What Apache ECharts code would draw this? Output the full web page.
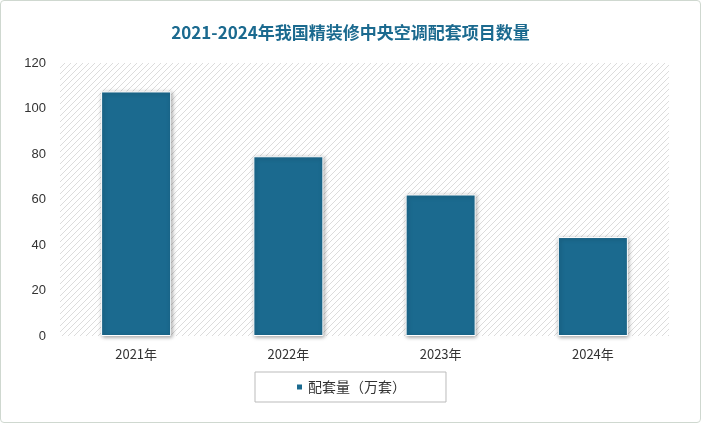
<!DOCTYPE html>
<html><head><meta charset="utf-8">
<script src="https://cdn.jsdelivr.net/npm/echarts@6/dist/echarts.min.js"></script>
<style>html,body{margin:0;padding:0;background:#fff}#c{width:701px;height:423px;box-sizing:border-box;border:1px solid #cfd8d0;border-radius:4px}</style>
</head><body><div id="c"></div>
<script>
const categories=['2021年','2022年','2023年','2024年'];
const values=[107.5,79,62.2,43.5];
const yTicks=[0,20,40,60,80,100,120];
const seriesName='配套量（万套）';
const cv=document.createElement('canvas');cv.width=6;cv.height=6;
const g=cv.getContext('2d');g.fillStyle='#fff';g.fillRect(0,0,6,6);g.strokeStyle='#dcdcdc';g.lineWidth=1;
g.beginPath();g.moveTo(0,6);g.lineTo(6,0);g.moveTo(-1,1);g.lineTo(1,-1);g.moveTo(5,7);g.lineTo(7,5);g.stroke();
const chart=echarts.init(document.getElementById('c'));
chart.setOption({
 animation:false,
 title:{text:'2021-2024年我国精装修中央空调配套项目数量',left:'center',top:18,textStyle:{color:'#1b6a8f',fontSize:17,fontWeight:'bold',fontFamily:'Noto Sans CJK SC'}},
 grid:{left:59,right:31,top:62,bottom:86,show:true,borderWidth:0,backgroundColor:{image:cv,repeat:'repeat'}},
 legend:{bottom:20,left:'center',data:[seriesName],itemWidth:7,itemHeight:7,icon:'rect',borderColor:'#bbb',borderWidth:1,padding:[8,40,8,40],textStyle:{fontSize:14,color:'#333',fontFamily:'Noto Sans CJK SC'}},
 xAxis:{type:'category',data:categories,axisLine:{show:false},axisTick:{show:false},axisLabel:{color:'#333',fontSize:13,margin:12,fontFamily:'Noto Sans CJK SC'}},
 yAxis:{type:'value',min:yTicks[0],max:yTicks[yTicks.length-1],interval:20,splitLine:{show:false},axisLine:{show:false},axisTick:{show:false},axisLabel:{color:'#333',fontSize:13,margin:14}},
 series:[{name:seriesName,type:'bar',data:values,barWidth:'46%',itemStyle:{color:'#1b6a8f',shadowColor:'rgba(0,0,0,0.35)',shadowBlur:4,shadowOffsetX:1,shadowOffsetY:1,borderColor:'#fff',borderWidth:1}}]
});
</script></body></html>
